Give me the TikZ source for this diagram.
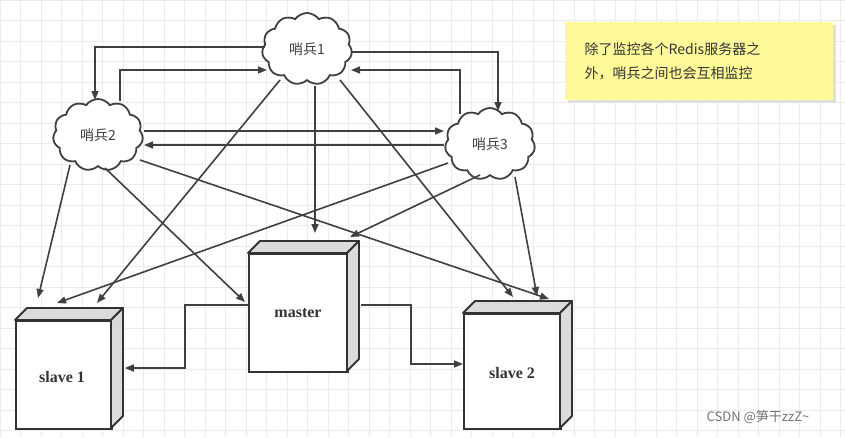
\documentclass[tikz,border=0pt]{standalone}
\usepackage{fontspec}
\setmainfont{Liberation Serif}
\newfontfamily\cjk{Noto Sans CJK SC}
\usetikzlibrary{shapes.symbols,arrows.meta,calc}
\begin{document}
\begin{tikzpicture}[x=1pt,y=-1pt,
  cl/.style={cloud,cloud puffs=11,cloud puff arc=110,aspect=1.3,draw=black!75,line width=1.8pt,fill=white,minimum width=90pt,minimum height=72pt,inner sep=0pt,font=\cjk\fontsize{14}{16}\selectfont,text=black!75},
  ar/.style={draw=black!75,line width=1.6pt,-{Triangle[length=9pt,width=7pt]}},
  box/.style={draw=black!80,line width=1.8pt,fill=white,inner sep=0pt,font=\bfseries\fontsize{16}{18}\selectfont,text=black!80},
  face/.style={draw=black!80,line width=1.8pt,fill=black!14,line join=round}]
\useasboundingbox (0,0) rectangle (845,437);
\fill[white] (0,0) rectangle (845,437);
\draw[black!8,line width=0.7pt] (0,0) grid[step=20.5pt] (845,437);
% boxes
\newcommand\qbox[5]{% name, x1,y1,x2,y2
  \node[box,minimum width=#4-#2,minimum height=#5-#3,anchor=north west] (#1) at (#2,#3) {};
  \draw[face] (#2,#3) -- ++(12,-12) -- (#4+12,#3-12) -- (#4,#3) -- cycle;
  \draw[face] (#4,#3) -- (#4+12,#3-12) -- (#4+12,#5-12) -- (#4,#5) -- cycle;}
\qbox{s1}{15}{320}{111}{428}
\qbox{m}{248}{253}{347}{371}
\qbox{s2}{463}{313}{560}{428}
\node[box,draw=none,fill=none] at (62,377) {slave 1};
\node[box,draw=none,fill=none] at (298,313) {master};
\node[box,draw=none,fill=none] at (512,373) {slave 2};
% clouds
\node[cl] (c1) at (307,49) {哨兵1};
\node[cl] (c2) at (98,135) {哨兵2};
\node[cl] (c3) at (490,144) {哨兵3};
% cloud-cloud
\draw[ar] ($(c1)+(-42,-2)$) -- (95,47) -- ($(c2)+(-3,-35)$);
\draw[ar] ($(c2)+(22,-34)$) -- (120,70) -- ($(c1)+(-40,21)$);
\draw[ar] ($(c1)+(44,3)$) -- (498,52) -- ($(c3)+(8,-33)$);
\draw[ar] ($(c3)+(-30,-30)$) -- (460,70) -- ($(c1)+(44,21)$);
\draw[ar] ($(c2)+(46,-4)$) -- ($(c3)+(-46,-13)$);
\draw[ar] ($(c3)+(-46,1)$) -- ($(c2)+(46,10)$);
% to boxes
\draw[ar] ($(c2)+(-28,30)$) -- ($(s1.north west)+(23,-22)$);
\draw[ar] ($(c2)+(7,33)$) -- ($(m.north west)+(-3,49)$);
\draw[ar] ($(c2)+(42,25)$) -- ($(s2.north west)+(86,-14)$);
\draw[ar] ($(c1)+(-27,31)$) -- ($(s1.north west)+(82,-17)$);
\draw[ar] ($(c1)+(8,37)$) -- ($(m.north west)+(67,-20)$);
\draw[ar] ($(c1)+(33,31)$) -- ($(s2.north west)+(50,-16)$);
\draw[ar] ($(c3)+(-42,19)$) -- ($(s1.north west)+(42,-17)$);
\draw[ar] ($(c3)+(-10,31)$) -- ($(m.north west)+(102,-16)$);
\draw[ar] ($(c3)+(25,33)$) -- ($(s2.north west)+(74,-17)$);
% master to slaves
\draw[ar] ($(m.north west)+(0,52)$) -- (185,305) -- (185,368) -- ($(s1.north east)+(12,48)$);
\draw[ar] ($(m.north east)+(12,52)$) -- (411,305) -- (411,364) -- ($(s2.north west)+(0,51)$);
% note
\fill[black!12] (568,25) rectangle (836,103);
\node[fill=yellow!40,minimum width=268pt,minimum height=78pt,inner sep=0pt,anchor=north west,font=\cjk\fontsize{14}{24}\selectfont,text=black!80,align=left,text width=245pt] (n) at (565,22) {\hspace*{8pt}除了监控各个Redis服务器之\\\hspace*{8pt}外，哨兵之间也会互相监控};
\node[font=\cjk\fontsize{13}{15}\selectfont,text=black!55] (w) at (758,417) {CSDN @笋干zzZ\textasciitilde};
\end{tikzpicture}
\end{document}
